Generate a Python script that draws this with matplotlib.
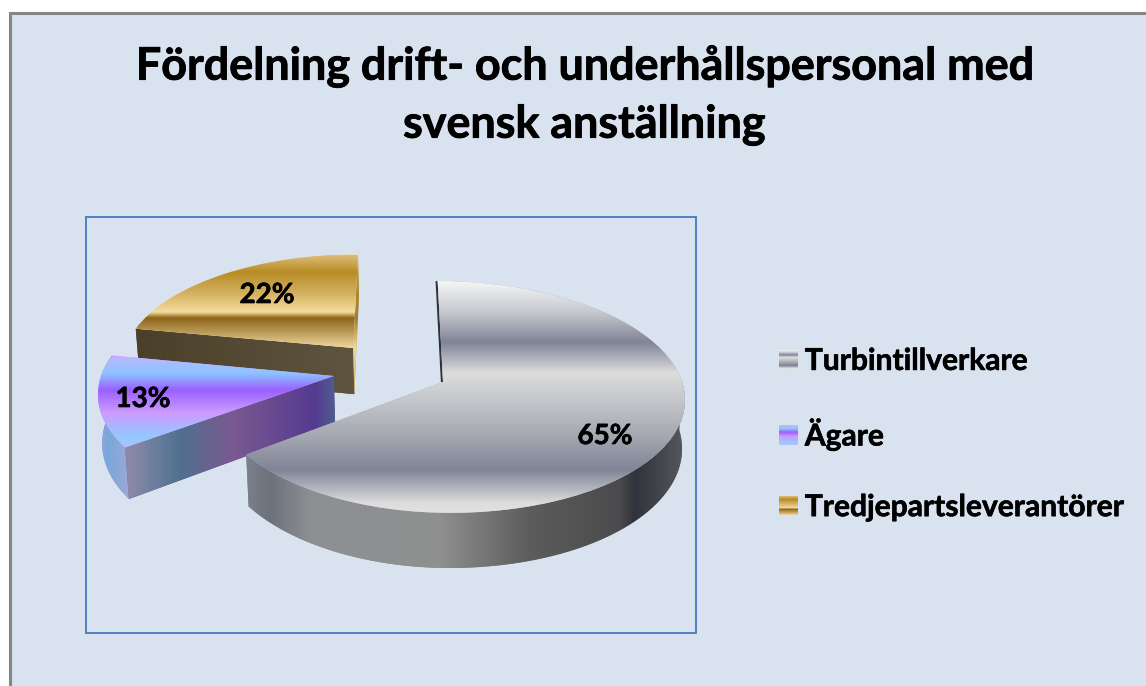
import numpy as np
import matplotlib
matplotlib.use("Agg")
import matplotlib.pyplot as plt
import matplotlib.patheffects as pe
from matplotlib.colors import to_rgb
from matplotlib.patches import Polygon, Rectangle
from matplotlib.transforms import Transform
from matplotlib.legend_handler import HandlerBase

# ---- data
categories = ["Turbintillverkare", "Ägare", "Tredjepartsleverantörer"]
shares = [65, 13, 22]
title_text = "Fördelning drift- och underhållspersonal med\nsvensk anställning"

# ---- layout (pixels of the 1146x686 picture; plane units for slice offsets)
W, H = 1146, 686
CX, CY, A, B, K, SHEAR, DEPTH, SHRINK = 443, 382, 242, 114, 0.129, -0.025, 48, 0.012
slice_offsets = [(0, 0), (-0.453, 0.053), (-0.378, 0.31)]
slice_xscale = [(0.947, 0.988), (0.968, 0.968), (0.978, 0.978)]  # left / right of apex
label_pos = [(605, 436), (143, 399), (267, 295)]
FONT = "Lato"
BG = "#d9e3f0"

top_grad = [
    [(281, "#f6f6f6"), (313, "#c5c7cc"), (342, "#7f8497"), (373, "#dddddd"),
     (437, "#a4a7b0"), (470, "#7f8497"), (503, "#dcdcdc"), (513, "#e2e2e2")],
    [(357, "#b8b8ff"), (373, "#8cc4ff"), (390, "#9a60ff"), (413, "#cc9cff"),
     (437, "#94c8ff"), (450, "#b0c0ff")],
    [(255, "#dcbc78"), (272, "#b88c25"), (293, "#d4b060"), (312, "#f4dc9c"),
     (318, "#8c6418"), (348, "#f0d8a0")],
]
rim_grad = [
    [(230, "#858a93"), (270, "#6c727c"), (310, "#8d8f93"), (440, "#8f8f8f"),
     (530, "#5c5c5c"), (620, "#4b4b4d"), (635, "#30333b"), (682, "#55565a")],
    [(90, "#c09af0"), (108, "#78a8d8"), (135, "#a8a8d8")],
]
cut_ag = [(90, "#8a8aa8"), (130, "#8a8aa8"), (180, "#4f7090"), (232, "#7a5a90"),
          (315, "#553a90"), (340, "#4f6590")]
cut_tr = [(125, "#4a3e28"), (360, "#5f5540")]
strip_tr = [(255, "#c09a40"), (318, "#a07c30"), (348, "#f0d8a0"), (396, "#c8a860")]


def project(u, v, z, idx):
    ou = slice_offsets[idx][0]
    left, right = slice_xscale[idx]
    u, v = np.asarray(u, float), np.asarray(v, float)
    du = u - ou
    u2 = ou + du * np.where(du < 0, left, right)
    w = 1 + K * v
    x = CX + A * (u2 + SHEAR * v) / w * (1 - SHRINK * z)
    y = CY - B * v / w + DEPTH * z / w
    return np.column_stack([np.atleast_1d(x), np.atleast_1d(y)])


class Plane(Transform):
    """Perspective view of the pie plane; maps unit-disc coordinates to pixels."""
    input_dims = output_dims = 2

    def __init__(self, idx):
        super().__init__()
        self.idx = idx

    def transform_non_affine(self, values):
        u, v = np.asarray(values).T
        return project(u, v, 0.0, self.idx)


def ramp(stops, n=512):
    p = np.array([s[0] for s in stops], float)
    c = np.array([to_rgb(s[1]) for s in stops])
    q = np.linspace(p[0], p[-1], n)
    return q, np.column_stack([np.interp(q, p, c[:, i]) for i in range(3)])


def paint(ax, clip, stops, zorder, horizontal=False):
    q, rgb = ramp(stops)
    if horizontal:
        arr, ext = rgb[None, :, :], (q[0], q[-1], H, 0)
    else:
        arr, ext = rgb[:, None, :], (0, W, q[-1], q[0])
    im = ax.imshow(arr, extent=ext, origin="upper", aspect="auto",
                   interpolation="bilinear", zorder=zorder)
    im.set_clip_path(clip)


class GradientKey(HandlerBase):
    def __init__(self, stops):
        super().__init__()
        self.stops = stops

    def create_artists(self, legend, orig, xd, yd, width, height, fontsize, trans):
        _, rgb = ramp(self.stops, 38)
        step = height / len(rgb)
        return [Rectangle((-xd, -yd + height - (i + 1) * step), width, step * 1.05,
                          fc=c, ec="none", transform=trans) for i, c in enumerate(rgb)]


fig = plt.figure(figsize=(W / 100, H / 100), dpi=100, facecolor="white")
ax = fig.add_axes([0, 0, 1, 1])

wedges, _, autotexts = ax.pie(shares, startangle=90, counterclock=False,
                              autopct="%d%%", wedgeprops=dict(linewidth=0))
ax.set_aspect("auto")
ax.set_xlim(0, W)
ax.set_ylim(H, 0)
ax.axis("off")

# chart area and plot-area frame
ax.add_patch(Rectangle((9.5, 13), W + 20, H + 20, fc=BG, ec="#868686", lw=2.2, zorder=0))
ax.add_patch(Rectangle((85.5, 216.5), 610, 416, fc="none", ec="#4f81bd", lw=1.4, zorder=1))

# walls and faces, back to front
for idx, z in ((2, 10), (1, 20), (0, 30)):
    wd = wedges[idx]
    ou, ov = slice_offsets[idx]
    wd.set_center((ou, ov))
    wd.set_transform(Plane(idx) + ax.transData)
    wd.set_zorder(z + 5)
    wd.set_facecolor(top_grad[idx][len(top_grad[idx]) // 2][1])
    t1, t2 = np.radians(wd.theta1), np.radians(wd.theta2)

    def rim(a, b, zz):
        t = np.linspace(a, b, 80)
        return project(ou + np.cos(t), ov + np.sin(t), zz, idx)

    def cut_face(corner):
        return np.vstack([project(ou, ov, 0, idx), project(*corner, 0, idx),
                          project(*corner, 1, idx), project(ou, ov, 1, idx)])

    if idx == 0:
        wall = Polygon(np.vstack([rim(t1, 0, 0), rim(t1, 0, 1)[::-1]]), closed=True,
                       fc="#858a93", ec="none", zorder=z)
        ax.add_patch(wall)
        paint(ax, wall, rim_grad[0], z + 1, horizontal=True)
        edge = project([ou, ou], [ov + 1, ov], 0, idx)
        ax.plot(edge[:, 0] - 1, edge[:, 1], color="#2f3238", lw=1.6, zorder=z + 2,
                solid_capstyle="butt")
    elif idx == 1:
        wall = Polygon(np.vstack([rim(t2, t1, 0)[::-1], rim(t2, t1, 1)]), closed=True,
                       fc="#88a8d8", ec="none", zorder=z)
        ax.add_patch(wall)
        paint(ax, wall, rim_grad[1], z + 1, horizontal=True)
        cut = Polygon(cut_face((ou + np.cos(t2), ov + np.sin(t2))), closed=True,
                      fc="#665588", ec="none", zorder=z + 2)
        ax.add_patch(cut)
        paint(ax, cut, cut_ag, z + 3, horizontal=True)
    else:
        cut = Polygon(cut_face((ou + np.cos(t2), ov + np.sin(t2))), closed=True,
                      fc="#554a32", ec="none", zorder=z)
        ax.add_patch(cut)
        paint(ax, cut, cut_tr, z + 1, horizontal=True)
        strip = Polygon(np.vstack([project(ou, ov + 1, 0, idx), project(ou, ov, 0, idx),
                                   project(ou, ov, 1, idx), project(ou, ov + 1, 1, idx)]),
                        closed=True, fc="#c8a860", ec="none", zorder=z + 2)
        ax.add_patch(strip)
        paint(ax, strip, strip_tr, z + 3)
    paint(ax, wd, top_grad[idx], z + 6)

# text
heavy = lambda lw: [pe.withStroke(linewidth=lw, foreground="black")]

for txt, pos in zip(autotexts, label_pos):
    txt.set_position(pos)
    txt.set(family=FONT, fontweight="bold", fontsize=20, color="black",
            ha="center", va="center", zorder=60, path_effects=heavy(0.45))

ax.text(584, 95, title_text, family=FONT, fontweight="bold", fontsize=32.3, color="black",
        ha="center", va="center", linespacing=1.456, zorder=60, path_effects=heavy(0.6))

leg = ax.legend(wedges, categories, loc="center left", bbox_to_anchor=(779, 434),
                bbox_transform=ax.transData, frameon=False, borderpad=0, borderaxespad=0,
                handler_map={w: GradientKey(g) for w, g in zip(wedges, top_grad)},
                prop=dict(family=FONT, weight="bold", size=21.6), handlelength=0.63,
                handleheight=0.63, handletextpad=0.23, labelspacing=1.42)
leg.set_zorder(60)
for t in leg.get_texts():
    t.set_color("black")
    t.set_path_effects(heavy(0.45))

fig.savefig("out.png", dpi=100, facecolor="white")
